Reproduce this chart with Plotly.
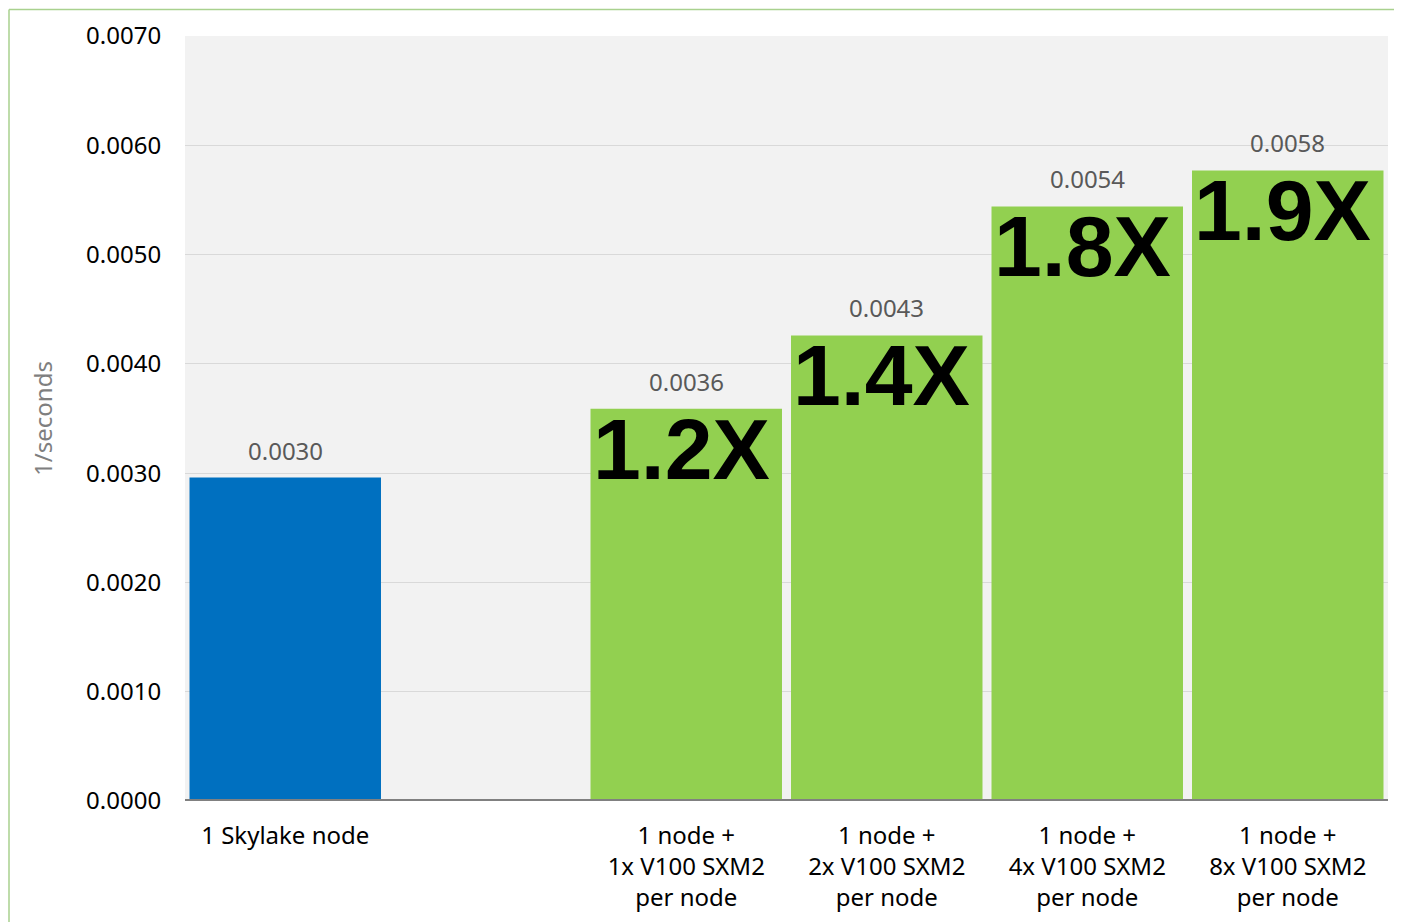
import plotly.graph_objects as go

categories = ["1 Skylake node", "", "1 node +<br>1x V100 SXM2<br>per node",
              "1 node +<br>2x V100 SXM2<br>per node", "1 node +<br>4x V100 SXM2<br>per node",
              "1 node +<br>8x V100 SXM2<br>per node"]
positions = [0, 1, 2, 3, 4, 5]
bar_positions = [0, 2, 3, 4, 5]
values = [0.00296, 0.00359, 0.00426, 0.00544, 0.00577]
value_labels = ["0.0030", "0.0036", "0.0043", "0.0054", "0.0058"]
speedups = ["", "1.2X", "1.4X", "1.8X", "1.9X"]
colors = ["#0070C0", "#92D050", "#92D050", "#92D050", "#92D050"]
y_ticks = [0.0, 0.001, 0.002, 0.003, 0.004, 0.005, 0.006, 0.007]
y_ticktext = ["0.0000", "0.0010", "0.0020", "0.0030", "0.0040", "0.0050", "0.0060", "0.0070"]

fig = go.Figure()
fig.add_trace(go.Bar(x=bar_positions, y=values, marker=dict(color=colors, line=dict(width=0)),
                     width=0.955, hoverinfo="skip"))

for xp, v, lab, sp in zip(bar_positions, values, value_labels, speedups):
    fig.add_annotation(x=xp, y=v, text=lab, showarrow=False, yanchor="bottom", yshift=9,
                       font=dict(family="Noto Sans", size=24, color="#595959"))
    if sp:
        fig.add_annotation(x=xp, y=v, text="<b>" + sp + "</b>", showarrow=False, yanchor="top",
                           xshift=-5, yshift=10,
                           font=dict(family="Liberation Sans", size=86, color="#000000"))

# outer light-green frame (left and top)
fig.add_shape(type="line", xref="paper", yref="paper", x0=-0.1463, x1=1.02, y0=1.0345, y1=1.0345,
              line=dict(color="#A9D18E", width=1.5))
fig.add_shape(type="line", xref="paper", yref="paper", x0=-0.1463, x1=-0.1463, y0=1.0345, y1=-0.2,
              line=dict(color="#A9D18E", width=1.5))

fig.update_layout(
    width=1394, height=914,
    margin=dict(l=177, r=14, t=28, b=121, autoexpand=False),
    paper_bgcolor="white", plot_bgcolor="#F2F2F2",
    showlegend=False, bargap=0.04,
    xaxis=dict(tickmode="array", tickvals=positions, ticktext=categories, range=[-0.5, 5.5],
               showgrid=False, zeroline=False, showline=False, automargin=False,
               tickfont=dict(family="Noto Sans", size=24, color="#000000"),
               ticks="outside", ticklen=13, tickcolor="rgba(0,0,0,0)"),
    yaxis=dict(range=[0, 0.007], tickmode="array", tickvals=y_ticks, ticktext=y_ticktext,
               showgrid=True, gridcolor="#D9D9D9", gridwidth=1, zeroline=False, automargin=False,
               tickfont=dict(family="Noto Sans", size=24, color="#000000"),
               ticks="outside", ticklen=18, tickcolor="rgba(0,0,0,0)",
               title=dict(text="1/seconds", font=dict(family="Noto Sans", size=24, color="#7F7F7F"),
                          standoff=26)),
)
fig.add_shape(type="line", xref="paper", yref="y", x0=0, x1=1, y0=0, y1=0,
              line=dict(color="#808080", width=4), layer="above")

fig.write_html("out.html")
